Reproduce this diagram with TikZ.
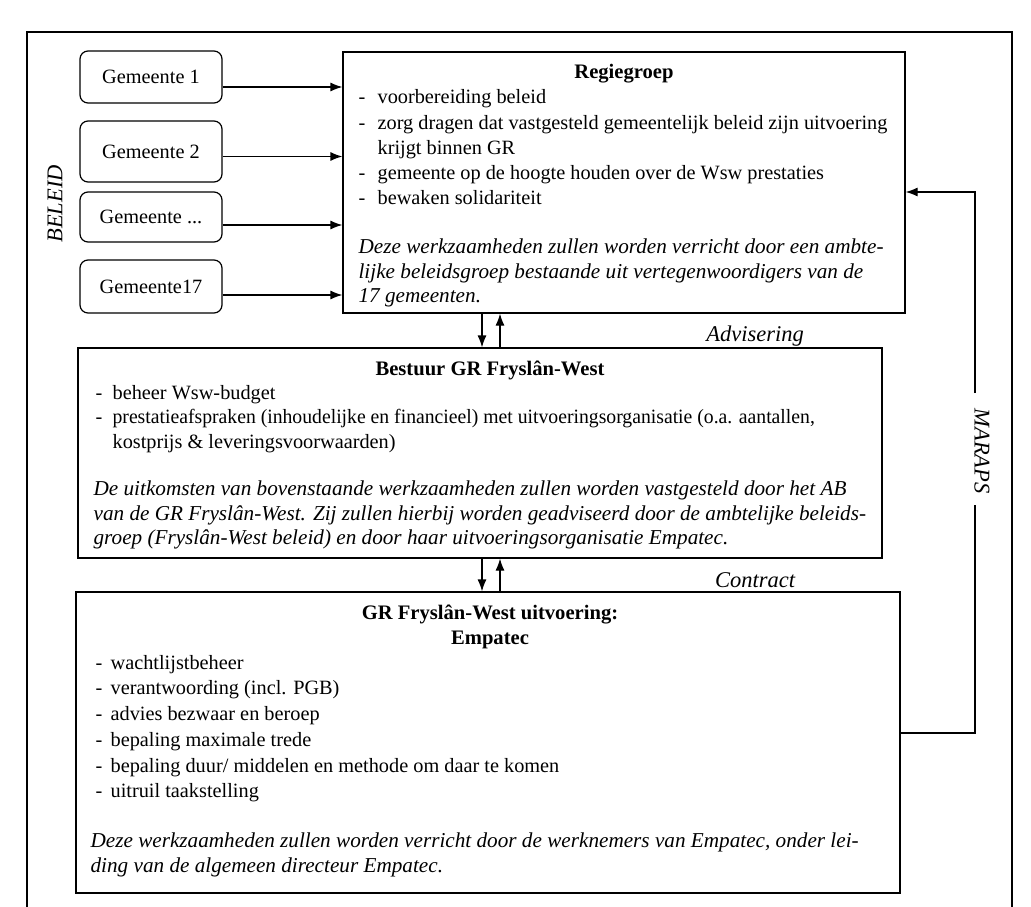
\documentclass[tikz,border=0pt]{standalone}
\usepackage{fontspec}
\setmainfont{Liberation Serif}
\usetikzlibrary{arrows.meta}
\begin{document}
\begin{tikzpicture}[x=1pt,y=-1pt,
  line width=1.2pt,
  every node/.style={font=\fontsize{20.3}{25}\selectfont},
  gembox/.style={draw, rounded corners=8pt, minimum width=142pt, inner sep=0pt},
  mainbox/.style={draw, inner sep=0pt},
  ln/.style={anchor=base west, inner sep=0pt},
  ttl/.style={anchor=base, inner sep=0pt, font=\fontsize{20.6}{25}\selectfont\bfseries},
  itl/.style={anchor=base west, inner sep=0pt, font=\fontsize{21.2}{25}\selectfont\itshape},
  lbl/.style={inner sep=0pt, font=\fontsize{22.5}{25}\selectfont\itshape},
  arr/.style={-{Latex[length=12pt,width=9pt]}},
]
\useasboundingbox (0,0) rectangle (1031,907);
\begin{scope}
\clip (0,0) rectangle (1031,907);
% outer frame
\draw (27,930) -- (27,32) -- (1012,32) -- (1012,930);

% gemeente boxes
\node[gembox, minimum height=52pt] (g1) at (151,77) {Gemeente 1};
\node[gembox, minimum height=61pt] (g2) at (151,151.5) {Gemeente 2};
\node[gembox, minimum height=50pt] (g3) at (151,217) {Gemeente ...};
\node[gembox, minimum height=53pt] (g4) at (151,286.5) {Gemeente17};

% main boxes
\node[mainbox, minimum width=562pt, minimum height=261pt] (reg) at (624,182.5) {};
\node[mainbox, minimum width=804pt, minimum height=210pt] (best) at (480,453) {};
\node[mainbox, minimum width=824pt, minimum height=301pt] (emp) at (488,742.5) {};

% Regiegroep text
\node[ttl] (rt) at (624,78) {Regiegroep};
\node[ln] (rd1) at (358,103) {-};
\node[ln] (rl1) at (377,103) {voorbereiding beleid};
\node[ln] (rd2) at (358,129) {-};
\node[ln] (rl2) at (377,129) {zorg dragen dat vastgesteld gemeentelijk beleid zijn uitvoering};
\node[ln] (rl3) at (377,154) {krijgt binnen GR};
\node[ln] (rd4) at (358,179) {-};
\node[ln] (rl4) at (377,179) {gemeente op de hoogte houden over de Wsw prestaties};
\node[ln] (rd5) at (358,204) {-};
\node[ln] (rl5) at (377,204) {bewaken solidariteit};
\node[itl] (ri1) at (358,253) {Deze werkzaamheden zullen worden verricht door een ambte-};
\node[itl] (ri2) at (358,278) {lijke beleidsgroep bestaande uit vertegenwoordigers van de};
\node[itl] (ri3) at (358,302) {17 gemeenten.};

% Bestuur text
\node[ttl] (bt) at (490,375) {Bestuur GR Fryslân-West};
\node[ln] (bd1) at (95,399) {-};
\node[ln] (bl1) at (112,399) {beheer Wsw-budget};
\node[ln] (bd2) at (95,423) {-};
\node[ln] (bl2) at (112,423) {\scalebox{0.97}[1]{prestatieafspraken (inhoudelijke en financieel) met uitvoeringsorganisatie (o.a. aantallen,}};
\node[ln] (bl3) at (112,448) {kostprijs \& leveringsvoorwaarden)};
\node[itl] (bi1) at (93,495) {De uitkomsten van bovenstaande werkzaamheden zullen worden vastgesteld door het AB};
\node[itl] (bi2) at (93,520) {van de GR Fryslân-West. Zij zullen hierbij worden geadviseerd door de ambtelijke beleids-};
\node[itl] (bi3) at (93,544) {groep (Fryslân-West beleid) en door haar uitvoeringsorganisatie Empatec.};

% Empatec text
\node[ttl] (et1) at (490,619) {GR Fryslân-West uitvoering:};
\node[ttl] (et2) at (490,644) {Empatec};
\node[ln] (ed1) at (95,669) {-};
\node[ln] (el1) at (110,669) {wachtlijstbeheer};
\node[ln] (ed2) at (95,694) {-};
\node[ln] (el2) at (110,694) {verantwoording (incl. PGB)};
\node[ln] (ed3) at (95,720) {-};
\node[ln] (el3) at (110,720) {advies bezwaar en beroep};
\node[ln] (ed4) at (95,746) {-};
\node[ln] (el4) at (110,746) {bepaling maximale trede};
\node[ln] (ed5) at (95,772) {-};
\node[ln] (el5) at (110,772) {bepaling duur/ middelen en methode om daar te komen};
\node[ln] (ed6) at (95,797) {-};
\node[ln] (el6) at (110,797) {uitruil taakstelling};
\node[itl] (ei1) at (90,847) {Deze werkzaamheden zullen worden verricht door de werknemers van Empatec, onder lei-};
\node[itl] (ei2) at (90,872) {ding van de algemeen directeur Empatec.};

% labels
\node[lbl, rotate=90] (beleid) at (55,204) {BELEID};
\node[lbl] (advis) at (755,336) {Advisering};
\node[lbl] (contr) at (755,580) {Contract};
\node[lbl, rotate=-90] (maraps) at (982,451) {MARAPS};

% arrows from gemeenten
\draw[arr] ([yshift=-10pt]g1.east) coordinate (a1) -- (reg.west |- a1);
\draw[arr] ([yshift=-5pt]g2.east) coordinate (a2) -- (reg.west |- a2);
\draw[arr] ([yshift=-8pt]g3.east) coordinate (a3) -- (reg.west |- a3);
\draw[arr] ([yshift=-8.5pt]g4.east) coordinate (a4) -- (reg.west |- a4);

% vertical arrows
\coordinate (xd) at (482,0);
\coordinate (xu) at (500,0);
\draw[arr] (reg.south -| xd) -- (best.north -| xd);
\draw[arr] (best.north -| xu) -- (reg.south -| xu);
\draw[arr] (best.south -| xd) -- (emp.north -| xd);
\draw[arr] (emp.north -| xu) -- (best.south -| xu);

% MARAPS loop
\coordinate (m1) at (975,733);
\coordinate (mB) at (975,505);
\coordinate (mT) at (975,393);
\coordinate (m2) at (975,192);
\draw (emp.east |- m1) -- (m1) -- (mB);
\draw[arr] (mT) -- (m2) -- (reg.east |- m2);
\end{scope}
\end{tikzpicture}
\end{document}
